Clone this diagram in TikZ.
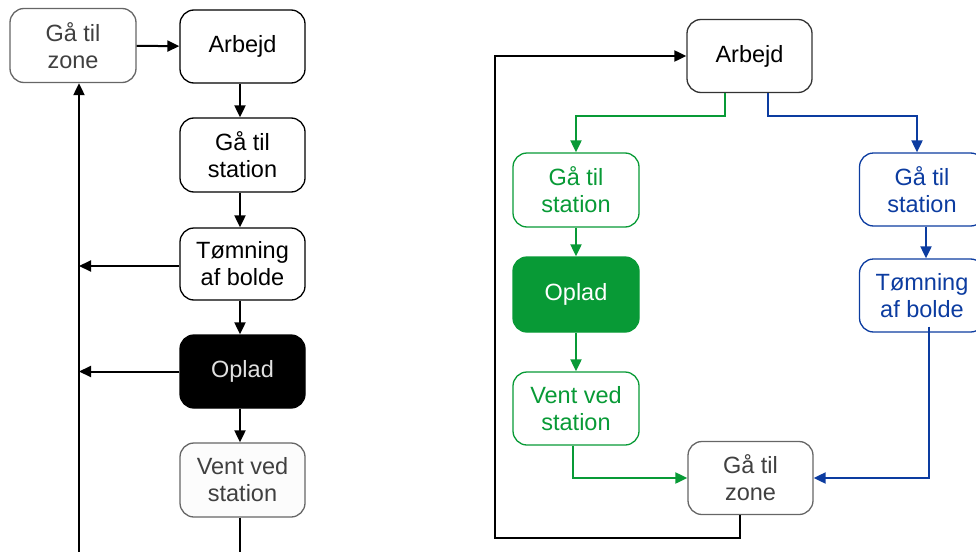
\documentclass[tikz,border=0pt]{standalone}
\usepackage{fontspec}
\setmainfont{Liberation Sans}
\usetikzlibrary{arrows.meta}
\definecolor{grn}{RGB}{8,154,54}
\definecolor{blu}{RGB}{12,60,160}
\definecolor{gtxt}{RGB}{64,64,64}
\begin{document}
\begin{tikzpicture}[x=1pt,y=-1pt,
  box/.style={draw, rounded corners=14pt, line width=1.3pt, minimum width=125pt, minimum height=73pt,
    align=center, inner sep=0pt, font=\fontsize{23.5}{27}\selectfont},
  graybox/.style={box, draw=gtxt!80, text=gtxt},
  gbox/.style={box, draw=grn, text=grn},
  bbox/.style={box, draw=blu, text=blu},
  conn/.style={line width=2pt, -{Triangle[length=12pt,width=11pt]}},
  plain/.style={line width=2pt}]
\useasboundingbox (0,0) rectangle (976,551);
% ---------------- left ----------------
\node[graybox, minimum width=126pt, minimum height=74pt] (lzone) at (73,45.5) {Gå til\\zone};
\node[box] (larb) at (242.5,46.5) {Arbejd};
\node[box, minimum height=74pt] (lstat) at (242.5,155) {Gå til\\station};
\node[box, minimum height=72pt] (ltom) at (242.5,264) {Tømning\\af bolde};
\node[box, fill=black, text=black!12] (lopl) at (242.5,371.5) {Oplad};
\node[graybox, fill=black!1, minimum height=74pt] (lvent) at (242.5,480) {Vent ved\\station};
\coordinate (lbus) at (79,560);
\draw[conn] (lzone) -- (larb);
\draw[conn] ([xshift=-2.5pt]larb.south) -- ([xshift=-2.5pt]lstat.north);
\draw[conn] ([xshift=-2.5pt]lstat.south) -- ([xshift=-2.5pt]ltom.north);
\draw[conn] ([xshift=-2.5pt]ltom.south) -- ([xshift=-2.5pt]lopl.north);
\draw[conn] ([xshift=-2.5pt]lopl.south) -- ([xshift=-2.5pt]lvent.north);
\draw[conn] ([yshift=-2pt]ltom.west) -- ([yshift=-2pt]ltom.west -| lbus);
\draw[conn] (lopl.west) -- (lopl.west -| lbus);
\draw[plain] ([xshift=-2.5pt]lvent.south) -- ++(0,40);
\draw[conn] (lbus) -- (lbus |- lzone.south);
% ---------------- right ----------------
\node[box, draw=black!80] (rarb) at (749.5,56) {Arbejd};
\node[gbox, minimum width=126pt, minimum height=74pt] (rstatg) at (576,190) {Gå til\\station};
\node[gbox, fill=grn, text=white, minimum width=126pt, minimum height=75pt] (roplg) at (576,294.5) {Oplad};
\node[gbox, minimum width=126pt] (rvent) at (576,408.5) {Vent ved\\station};
\node[graybox] (rzone) at (750.5,478) {Gå til\\zone};
\node[bbox] (rstatb) at (922,189.5) {Gå til\\station};
\node[bbox] (rtomb) at (922,295.5) {Tømning\\af bolde};
\coordinate (rloop) at (495,538);
\draw[conn, grn] ([xshift=-24.5pt]rarb.south) -- ++(0,23) -| (rstatg.north);
\draw[conn, blu] ([xshift=18.5pt]rarb.south) -- ++(0,23) -| ([xshift=-5pt]rstatb.north);
\draw[conn, grn] (rstatg) -- (roplg);
\draw[conn, grn] (roplg) -- (rvent);
\draw[conn, blu] ([xshift=4pt]rstatb.south) -- ([xshift=4pt]rtomb.north);
\draw[conn, grn] ([xshift=-3pt]rvent.south) |- (rzone.west);
\draw[conn, blu] ([xshift=7pt,yshift=6pt]rtomb.south) |- (rzone.east);
\draw[conn, black] ([xshift=-10.5pt]rzone.south) |- (rloop) |- (rarb.west);
\end{tikzpicture}
\end{document}
